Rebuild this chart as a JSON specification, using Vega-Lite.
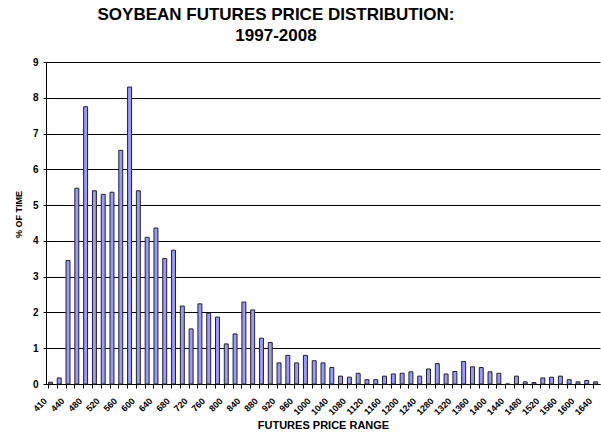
{
  "$schema": "https://vega.github.io/schema/vega-lite/v6.json",
  "width": 554,
  "height": 322,
  "autosize": {"type": "none"},
  "padding": {"left": 46, "top": 62, "right": 1, "bottom": 53},
  "background": "white",
  "title": {
    "text": ["SOYBEAN FUTURES PRICE DISTRIBUTION:", "1997-2008"],
    "font": "Liberation Sans",
    "fontSize": 17,
    "fontWeight": "bold",
    "color": "#000000",
    "anchor": "middle",
    "frame": "group",
    "dx": -47,
    "offset": 12,
    "lineHeight": 21
  },
  "config": {
    "view": {"stroke": null},
    "axis": {
      "labelFont": "Liberation Sans",
      "titleFont": "Liberation Sans",
      "labelFontWeight": "bold",
      "titleFontWeight": "bold",
      "labelColor": "#000000",
      "titleColor": "#000000",
      "domainColor": "#000000",
      "tickColor": "#000000"
    }
  },
  "data": {
    "values": [
      {"price": 410, "pct": 0.05},
      {"price": 420, "pct": 0.17},
      {"price": 440, "pct": 3.45},
      {"price": 460, "pct": 5.47},
      {"price": 480, "pct": 7.75},
      {"price": 500, "pct": 5.40},
      {"price": 520, "pct": 5.30},
      {"price": 540, "pct": 5.36},
      {"price": 560, "pct": 6.53},
      {"price": 580, "pct": 8.30},
      {"price": 600, "pct": 5.40},
      {"price": 620, "pct": 4.10},
      {"price": 640, "pct": 4.36},
      {"price": 660, "pct": 3.51},
      {"price": 680, "pct": 3.74},
      {"price": 700, "pct": 2.18},
      {"price": 720, "pct": 1.54},
      {"price": 740, "pct": 2.24},
      {"price": 760, "pct": 1.98},
      {"price": 780, "pct": 1.87},
      {"price": 800, "pct": 1.12},
      {"price": 820, "pct": 1.40},
      {"price": 840, "pct": 2.29},
      {"price": 860, "pct": 2.07},
      {"price": 880, "pct": 1.28},
      {"price": 900, "pct": 1.16},
      {"price": 920, "pct": 0.59},
      {"price": 940, "pct": 0.80},
      {"price": 960, "pct": 0.59},
      {"price": 980, "pct": 0.80},
      {"price": 1000, "pct": 0.65},
      {"price": 1020, "pct": 0.59},
      {"price": 1040, "pct": 0.46},
      {"price": 1060, "pct": 0.22},
      {"price": 1080, "pct": 0.19},
      {"price": 1100, "pct": 0.30},
      {"price": 1120, "pct": 0.12},
      {"price": 1140, "pct": 0.12},
      {"price": 1160, "pct": 0.22},
      {"price": 1180, "pct": 0.28},
      {"price": 1200, "pct": 0.30},
      {"price": 1220, "pct": 0.34},
      {"price": 1240, "pct": 0.22},
      {"price": 1260, "pct": 0.42},
      {"price": 1280, "pct": 0.57},
      {"price": 1300, "pct": 0.28},
      {"price": 1320, "pct": 0.35},
      {"price": 1340, "pct": 0.63},
      {"price": 1360, "pct": 0.48},
      {"price": 1380, "pct": 0.46},
      {"price": 1400, "pct": 0.34},
      {"price": 1420, "pct": 0.30},
      {"price": 1440, "pct": 0},
      {"price": 1460, "pct": 0.22},
      {"price": 1480, "pct": 0.06},
      {"price": 1500, "pct": 0.04},
      {"price": 1520, "pct": 0.17},
      {"price": 1540, "pct": 0.19},
      {"price": 1560, "pct": 0.22},
      {"price": 1580, "pct": 0.12},
      {"price": 1600, "pct": 0.06},
      {"price": 1620, "pct": 0.10},
      {"price": 1640, "pct": 0.06}
    ]
  },
  "mark": {"type": "bar", "fill": "#9999FF", "stroke": "#222222", "strokeWidth": 1},
  "encoding": {
    "x": {
      "field": "price",
      "type": "ordinal",
      "sort": "ascending",
      "scale": {"paddingInner": 0.55, "paddingOuter": 0.28},
      "axis": {
        "title": "FUTURES PRICE RANGE",
        "titleFontSize": 11,
        "titlePadding": 3,
        "labelFontSize": 9,
        "labelAngle": -45,
        "labelAlign": "right",
        "labelBaseline": "middle",
        "labelOverlap": false,
        "labelOffset": -5,
        "bandPosition": 0,
        "tickSize": 4,
        "labelPadding": 11,
        "labelExpr": "(datum.value == 410 || (datum.value - 440) % 40 == 0) ? datum.label : ''"
      }
    },
    "y": {
      "field": "pct",
      "type": "quantitative",
      "scale": {"domain": [0, 9], "nice": false},
      "axis": {
        "title": "% OF TIME",
        "titleFontSize": 9,
        "titlePadding": 9,
        "titleY": 152,
        "labelFontSize": 10,
        "values": [0, 1, 2, 3, 4, 5, 6, 7, 8, 9],
        "grid": true,
        "gridColor": "#000000",
        "gridWidth": 1,
        "tickSize": 3,
        "labelPadding": 5
      }
    }
  }
}
